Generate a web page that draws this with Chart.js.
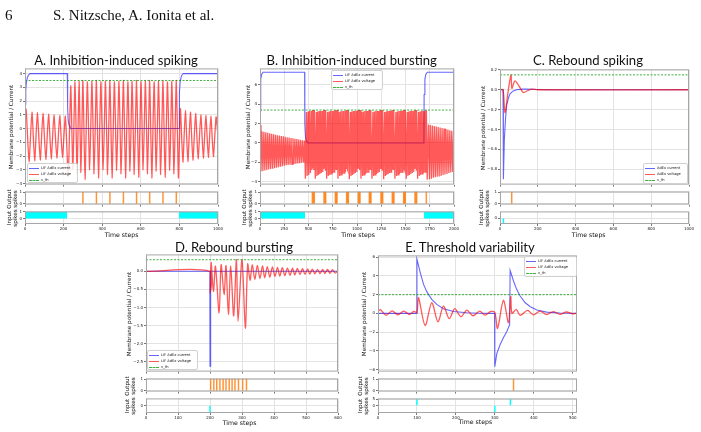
<!DOCTYPE html>
<html>
<head>
<meta charset="utf-8">
<script src="https://cdn.jsdelivr.net/npm/chart.js@4.4.1/dist/chart.umd.min.js"></script>
<style>
  body { margin: 0; background: #fff; }
  #page { position: relative; width: 701px; height: 432px; overflow: hidden; font-family: "DejaVu Sans", sans-serif; color: #111; }
  #page canvas { position: absolute; }
  .lbl { position: absolute; white-space: nowrap; line-height: 1; text-align: center; transform: translate(-50%, -50%); }
  .rot { transform: translate(-50%, -50%) rotate(-90deg); }
  .title { font-family: Lato, sans-serif; font-size: 13.1px; }
  .head { position: absolute; font-family: "Liberation Serif", serif; font-size: 15px; line-height: 1; }
  .legend { position: absolute; box-sizing: border-box; border: 1px solid #d0d0d0; border-radius: 2px; background: rgba(255,255,255,0.85); font-size: 3.6px; padding: 1px 1px; }
  .legend div { display: flex; align-items: center; height: 6px; white-space: nowrap; }
  .legend span { display: inline-block; width: 10px; margin-right: 2px; border-top: 1px solid; }
</style>
</head>
<body>
<div id="page"></div>
<script>
// A. Inhibition-induced spiking
const aCurrent = [[0, 1.8], [4, 2.8], [7, 3.3], [12, 3.7], [18, 3.9], [26, 4.0], [219, 4.0], [221, 1.5], [224, 0.6], [228, 0.25], [233, 0.08], [240, 0], [798, 0], [800, 2.6], [804, 3.4], [809, 3.75], [814, 3.92], [820, 4.0], [1000, 4.0]];
const aVoltage = [[0, 1.2], [6, 1.4], [21, -2.4], [36, 1.2], [50, -2.35], [64, 1.15], [79, -2.3], [93, 1.1], [108, -2.25], [122, 1.05], [136, -2.2], [150, 1.0], [165, -2.15], [180, 0.95], [194, -2.1], [209, 0.9],
  [224, -3.5], [237, 3.1], [248, -3.0], [259, 3.4], [270, -3.3], [280, 3.45], [290, -3.2], [300, 3.5], [311, -3.7], [323, 3.4], [335, -3.0], [347, 3.45], [358, -3.3], [370, 3.5], [381, -3.6], [393, 3.4], [405, -3.0], [417, 3.45], [428, -3.35], [440, 3.5], [451, -3.6],
  [463, 3.4], [475, -3.05], [487, 3.45], [498, -3.3], [510, 3.5], [521, -3.6], [533, 3.4], [544, -3.1], [555, 3.45], [566, -3.35], [578, 3.5], [589, -3.55], [601, 3.4], [612, -3.0], [624, 3.45], [635, -3.3], [646, 3.5], [657, -3.6],
  [669, 3.4], [680, -3.1], [692, 3.45], [703, -3.35], [715, 3.5], [726, -3.55], [738, 3.4], [750, -3.05], [761, 3.45], [772, -3.3], [784, 3.5], [795, -3.6],
  [805, 1.45], [818, -2.45], [831, 1.3], [844, -2.4], [857, 1.2], [870, -2.3], [884, 1.1], [897, -2.2], [911, 1.0], [924, -2.15], [937, 0.95], [950, -2.1], [963, 0.9], [976, -2.05], [990, 0.85], [1000, -0.6]];
const aSpikes = [300, 370, 440, 510, 578, 646, 715, 784];
const aInputOn = [[0, 219], [798, 1000]];
const aThreshold = 3.5;

// B. Inhibition-induced bursting
const bCurrent = [[0, 3.3], [5, 5.5], [10, 6.6], [18, 7.1], [31, 7.3], [460, 7.3], [462, 2.0], [468, 0.7], [478, 0.2], [495, 0], [1690, 0], [1692, 5.0], [1700, 6.6], [1710, 7.1], [1725, 7.3], [2000, 7.3]];
const bVoltage = [[0, 1.85], [10, -2.95], [20, 1.2], [30, -2.9], [40, 1.15], [50, -2.85], [60, 1.1], [70, -2.8], [80, 1.05], [90, -2.75], [100, 1.0], [110, -2.7], [120, 0.95], [130, -2.65], [140, 0.9], [150, -2.6], [160, 0.85], [170, -2.55], [180, 0.8], [190, -2.5],
  [200, 0.76], [210, -2.45], [220, 0.72], [230, -2.4], [240, 0.68], [250, -2.35], [260, 0.64], [270, -2.3], [280, 0.6], [290, -2.27], [300, 0.56], [310, -2.24], [320, 0.52], [330, -2.2], [340, 0.48], [350, -2.17], [360, 0.44], [370, -2.14], [380, 0.4], [390, -2.11],
  [400, 0.36], [410, -2.08], [420, 0.32], [430, -2.05], [440, 0.28], [450, -2.02], [460, 0.25], [468, -3.7],
  [478, 3.2], [486, -3.4], [495, 3.25], [503, -3.3], [512, 3.3], [520, -3.1], [529, 3.3], [535, -2.8],
  [540, 3.4], [545, -2.6], [550, 3.4], [555, -2.8], [560, 3.4], [570, -3.7], [580, 3.2], [587, -3.4], [595, 3.25], [602, -3.3], [610, 3.3], [617, -3.2], [625, 3.3], [632, -3.1], [640, 3.3], [647, -3.0], [653, 3.35], [657, -2.7],
  [660, 3.4], [665, -2.6], [669, 3.4], [673, -2.8], [677, 3.4], [687, -3.7], [697, 3.2], [704, -3.4], [712, 3.25], [719, -3.3], [727, 3.3], [734, -3.2], [742, 3.3], [749, -3.1], [757, 3.3], [764, -3.0], [770, 3.35], [774, -2.7],
  [777, 3.4], [782, -2.6], [786, 3.4], [790, -2.8], [794, 3.4], [804, -3.7], [814, 3.2], [821, -3.4], [829, 3.25], [836, -3.3], [844, 3.3], [851, -3.2], [859, 3.3], [866, -3.1], [874, 3.3], [881, -3.0], [887, 3.35], [890, -2.7],
  [893, 3.4], [898, -2.6], [902, 3.4], [906, -2.8], [911, 3.4], [921, -3.75], [931, 3.2], [938, -3.4], [946, 3.25], [953, -3.3], [961, 3.3], [968, -3.2], [976, 3.3], [983, -3.1], [991, 3.3], [998, -3.0], [1005, 3.35], [1010, -2.7],
  [1014, 3.4], [1019, -2.6], [1023, 3.4], [1027, -2.8], [1031, 3.4], [1041, -3.7], [1051, 3.2], [1058, -3.4], [1066, 3.25], [1073, -3.3], [1081, 3.3], [1088, -3.2], [1096, 3.3], [1103, -3.1], [1111, 3.3], [1118, -3.0], [1122, 3.35], [1124, -2.7],
  [1127, 3.4], [1132, -2.6], [1136, 3.4], [1140, -2.8], [1144, 3.4], [1154, -3.7], [1164, 3.2], [1171, -3.4], [1179, 3.25], [1186, -3.3], [1194, 3.3], [1201, -3.2], [1209, 3.3], [1216, -3.1], [1224, 3.3], [1231, -3.0], [1238, 3.35], [1243, -2.7],
  [1247, 3.4], [1252, -2.6], [1256, 3.4], [1260, -2.8], [1265, 3.4], [1275, -3.75], [1285, 3.2], [1292, -3.4], [1300, 3.25], [1307, -3.3], [1315, 3.3], [1322, -3.2], [1330, 3.3], [1337, -3.1], [1345, 3.3], [1352, -3.0], [1357, 3.35], [1361, -2.7],
  [1364, 3.4], [1369, -2.6], [1373, 3.4], [1377, -2.8], [1381, 3.4], [1391, -3.7], [1401, 3.2], [1408, -3.4], [1416, 3.25], [1423, -3.3], [1431, 3.3], [1438, -3.2], [1446, 3.3], [1453, -3.1], [1461, 3.3], [1468, -3.0], [1474, 3.35], [1478, -2.7],
  [1481, 3.4], [1486, -2.6], [1490, 3.4], [1494, -2.8], [1498, 3.4], [1508, -3.7], [1518, 3.2], [1525, -3.4], [1533, 3.25], [1540, -3.3], [1548, 3.3], [1555, -3.2], [1563, 3.3], [1570, -3.1], [1578, 3.3], [1585, -3.0], [1591, 3.35], [1595, -2.7],
  [1598, 3.4], [1603, -2.6], [1607, 3.4], [1611, -2.8], [1615, 3.4], [1625, -3.7], [1635, 3.2], [1642, -3.4], [1650, 3.25], [1657, -3.3], [1665, 3.3], [1672, -3.2], [1680, 3.3], [1687, -3.1], [1695, 3.3], [1702, -3.0], [1709, 3.35], [1712, -2.7],
  [1715, 3.4], [1724, -3.8],
  [1737, 1.9], [1747, -3.75], [1757, 1.85], [1767, -3.7], [1777, 1.8], [1787, -3.6], [1797, 1.75], [1807, -3.55], [1817, 1.7], [1827, -3.5], [1837, 1.65], [1847, -3.45], [1857, 1.6], [1867, -3.4],
  [1877, 1.55], [1887, -3.3], [1897, 1.5], [1907, -3.25], [1917, 1.45], [1927, -3.2], [1937, 1.4], [1947, -3.1], [1957, 1.3], [1967, -3.05], [1977, 1.25], [1987, -3.0], [1997, 1.2], [2000, 0.5]];
const bSpikes = [540, 550, 560, 660, 669, 677, 777, 786, 794, 893, 902, 911, 1014, 1023, 1031, 1127, 1136, 1144, 1247, 1256, 1265, 1364, 1373, 1381, 1481, 1490, 1498, 1598, 1607, 1615, 1715];
const bInputOn = [[0, 464], [1691, 2000]];
const bThreshold = 3.4;

// C. Rebound spiking
const cCurrent = [[0, 0], [16, 0], [18, -0.9], [23, -0.5], [29, -0.3], [35, -0.16], [45, -0.08], [53, -0.04], [70, -0.012], [88, 0], [120, 0.006], [141, 0.008], [194, 0.003], [250, 0], [1000, 0]];
const cVoltage = [[0, 0], [16, 0], [26, -0.23], [42, -0.03], [58, 0.15], [63, 0.015], [79, 0.09], [100, 0.04], [123, -0.027], [145, -0.01], [167, 0.007], [200, 0], [1000, 0]];
const cSpikes = [62];
const cInput = [[18, -1]];
const cThreshold = 0.15;

// D. Rebound bursting
const dCurrent = [[0, 0], [199.5, 0], [200, -2.62], [201, -0.55], [203, 0], [600, 0]];
const dVoltage = [[0, 0], [198.5, 0], [200.4, -0.59], [203.5, 0.245], [210.8, -0.55], [217, 0.14], [228.5, -1.15], [234.7, 0.18], [244, -0.64], [250, 0.155], [257.5, -1.19], [264.8, 0.14], [274, -1.23], [282.5, 0.32], [287.6, -1.38], [300, 0.32], [310.5, -1.57], [317.8, 0.2],
  [325, -0.25], [332, 0.18], [340, -0.22], [348, 0.16], [356, -0.2], [364, 0.15], [371, -0.18], [379, 0.13], [387, -0.16], [395, 0.12], [403, -0.14], [411, 0.11], [418, -0.13], [426, 0.1], [434, -0.12], [442, 0.09], [450, -0.11], [458, 0.085],
  [465, -0.1], [473, 0.08], [481, -0.09], [489, 0.07], [497, -0.085], [505, 0.065], [512, -0.08], [520, 0.06], [528, -0.07], [536, 0.055], [544, -0.065], [552, 0.05], [559, -0.06], [567, 0.05], [575, -0.055], [583, 0.045], [591, -0.05], [600, 0.02]];
const dSpikes = [202, 212, 221, 231, 241, 250, 260, 269, 278, 289, 302, 314];
const dInput = [[200, -1]];
const dThreshold = 0.32;

// E. Threshold variability
const eCurrent = [[0, 0], [99.5, 0], [100, 5.8], [108.5, 4.36], [117, 3.1], [125.6, 2.3], [138, 1.5], [151, 0.96], [168, 0.5], [194, 0.2], [228, 0.07], [262, 0.02], [299.5, 0], [300, -5.7], [305, -4.3], [314, -3.3], [322, -2.6], [331, -1.9], [338, -1.2],
  [339.3, 4.6], [348, 3.46], [356, 2.57], [365, 1.86], [378, 1.14], [391, 0.71], [408, 0.36], [433, 0.14], [467, 0.04], [511, 0]];
const eVoltage = [[0, 0.2], [6, 0.4], [21, -0.2], [36, 0.28], [51, -0.15], [66, 0.25], [81, -0.12], [92, 0.22], [100, 0.1], [104, 1.68], [121, -1.29], [138, 1.14], [154, -0.9], [168, 0.79], [183, -0.57], [197, 0.5], [213, -0.36], [228, 0.36], [244, -0.25],
  [261, 0.25], [275, -0.18], [290, 0.21], [300, 0.1], [307, -1.6], [322, 1.4], [335, -1.0], [341, 1.8], [344, 0.0], [355, 0.43], [365, -0.2], [384, 0.32], [399, -0.15], [416, 0.25], [433, -0.12], [450, 0.2], [467, -0.1], [484, 0.15], [500, -0.05], [511, 0.05]];
const eSpikes = [348];
const eInput = [[100, 5], [300, -5.8], [340, 5]];
const eThreshold = 2.0;

// ticks
const ticks1000 = [0, 200, 400, 600, 800, 1000];
const ticks2000 = [0, 250, 500, 750, 1000, 1250, 1500, 1750, 2000];
const ticks600 = [0, 100, 200, 300, 400, 500, 600];
const ticks500 = [0, 100, 200, 300, 400, 500];
const aYTicks = [-4, -3, -2, -1, 0, 1, 2, 3, 4];
const bYTicks = [-4, -2, 0, 2, 4, 6];
const cYTicks = [-0.8, -0.6, -0.4, -0.2, 0, 0.2];
const dYTicks = [-2.5, -2, -1.5, -1, -0.5, 0];
const eYTicks = [-6, -4, -2, 0, 2, 4, 6];

const BLUE = "rgba(0,0,255,0.6)";
const RED = "rgba(255,0,0,0.65)";
const GREEN = "rgba(0,150,0,0.75)";
const ORANGE = "rgba(255,127,14,0.85)";
const CYAN = "#00ffff";

Chart.defaults.font.family = "'DejaVu Sans', sans-serif";
Chart.defaults.font.size = 4;
Chart.defaults.color = "#222";

const page = document.getElementById("page");

const frame = {
  id: "frame",
  afterDatasetsDraw(chart) {
    const { ctx, chartArea: a } = chart;
    ctx.save();
    ctx.strokeStyle = "#a6a6a6";
    ctx.lineWidth = 1;
    ctx.strokeRect(a.left + 0.5, a.top + 0.5, a.right - a.left - 1, a.bottom - a.top - 1);
    ctx.restore();
  },
};

const pts = (arr) => arr.map(([x, y]) => ({ x, y }));
const intFmt = (v) => String(v).replace("-", "\u2212");
const decFmt = (v) => v.toFixed(1).replace("-", "\u2212");

const curve = (arr, color, tension, width) => ({
  type: "line", data: pts(arr), borderColor: color, borderWidth: width, pointRadius: 0, tension, fill: false,
});
const thresh = (v, xMax) => ({
  type: "line", data: [{ x: 0, y: v }, { x: xMax, y: v }], borderColor: GREEN, borderWidth: 1, borderDash: [2, 1.5], pointRadius: 0,
});
const spikeSets = (times) => [
  { type: "line", data: times.map((t) => ({ x: t, y: 1 })), showLine: false, pointRadius: 0.8, pointStyle: "triangle", backgroundColor: ORANGE, borderWidth: 0 },
  { type: "bar", data: times.map((t) => ({ x: t, y: 1 })), backgroundColor: ORANGE, barThickness: 0.8 },
];
const bandSets = (spans) => spans.map(([a, b]) => ({
  type: "line", data: [{ x: a, y: 1 }, { x: b, y: 1 }], fill: "origin", backgroundColor: CYAN, borderColor: CYAN, borderWidth: 0, pointRadius: 0,
}));
const stemSets = (arr) => [{ type: "bar", data: pts(arr), backgroundColor: CYAN, barThickness: 0.8 }];

function plot(box, xMax, xTicks, yMin, yMax, yTicks, fmt, datasets, showX) {
  const padL = 16, padT = 3, padR = 9;
  const axisH = showX ? 9 : 2;
  const c = document.createElement("canvas");
  c.width = box[2] - box[0] + padL + padR;
  c.height = box[3] - box[1] + padT + axisH;
  c.style.left = box[0] - padL + "px";
  c.style.top = box[1] - padT + "px";
  page.appendChild(c);
  new Chart(c, {
    type: "line",
    data: { datasets },
    options: {
      responsive: false,
      animation: false,
      events: [],
      devicePixelRatio: 1,
      layout: { autoPadding: false, padding: { left: 0, top: padT, right: padR, bottom: 0 } },
      plugins: { legend: { display: false }, tooltip: { enabled: false } },
      scales: {
        x: {
          type: "linear", min: 0, max: xMax, offset: false,
          afterBuildTicks: (s) => { s.ticks = xTicks.map((v) => ({ value: v })); },
          afterFit: (s) => { s.height = axisH; },
          grid: { color: "#e3e3e3", tickColor: "#777", tickLength: 2, offset: false },
          border: { display: false },
          ticks: { display: showX, autoSkip: false, maxRotation: 0, padding: 1, callback: intFmt },
        },
        y: {
          type: "linear", min: yMin, max: yMax,
          afterBuildTicks: (s) => { s.ticks = yTicks.map((v) => ({ value: v })); },
          afterFit: (s) => { s.width = padL; },
          grid: { color: "#e3e3e3", tickColor: "#777", tickLength: 2 },
          border: { display: false },
          ticks: { autoSkip: false, padding: 1, callback: fmt },
        },
      },
    },
    plugins: [frame],
  });
}

function label(text, x, y, cls) {
  const d = document.createElement("div");
  d.className = "lbl " + (cls || "");
  d.innerHTML = text;
  d.style.left = x + "px";
  d.style.top = y + "px";
  page.appendChild(d);
  return d;
}

function legend(box, names) {
  const d = document.createElement("div");
  d.className = "legend";
  d.style.left = box[0] + "px";
  d.style.top = box[1] + "px";
  d.style.width = box[2] + "px";
  d.style.height = box[3] + "px";
  const styles = ["solid " + BLUE, "solid " + RED, "dashed " + GREEN];
  names.forEach((n, i) => {
    const row = document.createElement("div");
    row.innerHTML = '<span style="border-top:1px ' + styles[i] + '"></span>' + n;
    d.appendChild(row);
  });
  page.appendChild(d);
}

function figure(f) {
  plot(f.main, f.xMax, f.xTicks, f.yMin, f.yMax, f.yTicks, f.fmt,
    [thresh(f.vth, f.xMax), curve(f.volt, RED, f.tension, 1.3), curve(f.cur, BLUE, 0, 1.1)], false);
  plot(f.out, f.xMax, f.xTicks, -0.05, 1.05, [0, 1], intFmt, spikeSets(f.spikes), false);
  plot(f.inp, f.xMax, f.xTicks, f.inMin, f.inMax, f.inTicks, intFmt, f.inSets, true);
  label(f.title, f.titleAt[0], f.titleAt[1], "title");
  label("Membrane potential / Current", f.ylabX, (f.main[1] + f.main[3]) / 2, "rot").style.fontSize = "5.7px";
  label("Output<br>spikes", f.sideX, (f.out[1] + f.out[3]) / 2, "rot").style.fontSize = "5.6px";
  label("Input<br>spikes", f.sideX, (f.inp[1] + f.inp[3]) / 2, "rot").style.fontSize = "5.6px";
  label("Time steps", f.timeAt[0], f.timeAt[1]).style.fontSize = "6.2px";
  legend(f.legendBox, f.names);
}

const lif = ["LIF AdEx current", "LIF AdEx voltage", "v_th"];

figure({
  title: "A. Inhibition-induced spiking", titleAt: [116, 60.5],
  main: [25, 68, 218, 186], out: [25, 191, 218, 206], inp: [25, 211, 218, 224],
  xMax: 1000, xTicks: ticks1000, yMin: -4.08, yMax: 4.38, yTicks: aYTicks, fmt: intFmt,
  cur: aCurrent, volt: aVoltage, vth: aThreshold, tension: 0.2, spikes: aSpikes,
  inMin: -0.8, inMax: 1.05, inTicks: [0, 1], inSets: bandSets(aInputOn),
  ylabX: 12, sideX: 12.5, timeAt: [121.5, 234.5], legendBox: [27, 163, 51, 20], names: lif,
});

figure({
  title: "B. Inhibition-induced bursting", titleAt: [351.7, 60.5],
  main: [260, 68, 454, 186], out: [260, 191, 454, 206], inp: [260, 211, 454, 224],
  xMax: 2000, xTicks: ticks2000, yMin: -4.3, yMax: 7.7, yTicks: bYTicks, fmt: intFmt,
  cur: bCurrent, volt: bVoltage, vth: bThreshold, tension: 0, spikes: bSpikes,
  inMin: -0.8, inMax: 1.05, inTicks: [0, 1], inSets: bandSets(bInputOn),
  ylabX: 249, sideX: 247.5, timeAt: [358, 234.5], legendBox: [331, 70, 52, 20], names: lif,
});

figure({
  title: "C. Rebound spiking", titleAt: [588, 60.5],
  main: [500, 69, 689, 186], out: [500, 191, 689, 206], inp: [500, 211, 689, 224],
  xMax: 1000, xTicks: ticks1000, yMin: -0.955, yMax: 0.205, yTicks: cYTicks, fmt: decFmt,
  cur: cCurrent, volt: cVoltage, vth: cThreshold, tension: 0.3, spikes: cSpikes,
  inMin: -1.05, inMax: 1.3, inTicks: [0], inSets: stemSets(cInput),
  ylabX: 484, sideX: 485, timeAt: [588.7, 234.5], legendBox: [643, 163, 45, 21],
  names: ["AdEx current", "AdEx voltage", "v_th"],
});

figure({
  title: "D. Rebound bursting", titleAt: [234, 248],
  main: [146, 254, 338, 373], out: [146, 378, 338, 393], inp: [146, 398, 338, 413],
  xMax: 600, xTicks: ticks600, yMin: -2.77, yMax: 0.467, yTicks: dYTicks, fmt: decFmt,
  cur: dCurrent, volt: dVoltage, vth: dThreshold, tension: 0.3, spikes: dSpikes,
  inMin: -1.05, inMax: 1.0, inTicks: [0], inSets: stemSets(dInput),
  ylabX: 129.5, sideX: 131, timeAt: [239.5, 422.7], legendBox: [147, 350, 51, 20], names: lif,
});

figure({
  title: "E. Threshold variability", titleAt: [470, 248],
  main: [378, 255, 577, 373], out: [378, 378, 577, 393], inp: [378, 398, 577, 413],
  xMax: 511, xTicks: ticks500, yMin: -6.22, yMax: 6.2, yTicks: eYTicks, fmt: intFmt,
  cur: eCurrent, volt: eVoltage, vth: eThreshold, tension: 0.3, spikes: eSpikes,
  inMin: -6.1, inMax: 5.8, inTicks: [0, 5], inSets: stemSets(eInput),
  ylabX: 365, sideX: 363.5, timeAt: [475.3, 422.3], legendBox: [524, 256, 53, 21], names: lif,
});

const h1 = document.createElement("div");
h1.className = "head";
h1.textContent = "6";
h1.style.left = "5px";
h1.style.top = "8px";
page.appendChild(h1);
const h2 = document.createElement("div");
h2.className = "head";
h2.textContent = "S. Nitzsche, A. Ionita et al.";
h2.style.left = "53px";
h2.style.top = "8px";
page.appendChild(h2);
</script>
</body>
</html>
